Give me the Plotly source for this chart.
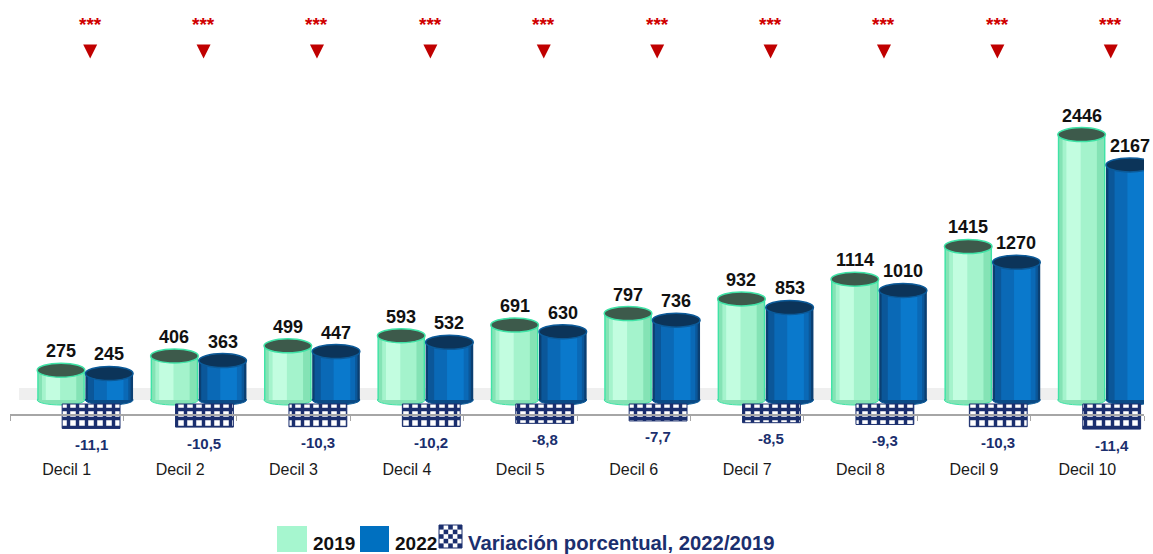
import plotly.graph_objects as go

# ---------------- data ----------------
categories = ["Decil 1", "Decil 2", "Decil 3", "Decil 4", "Decil 5",
              "Decil 6", "Decil 7", "Decil 8", "Decil 9", "Decil 10"]
values_2019 = [275, 406, 499, 593, 691, 797, 932, 1114, 1415, 2446]
values_2022 = [245, 363, 447, 532, 630, 736, 853, 1010, 1270, 2167]
variation = [-11.1, -10.5, -10.3, -10.2, -8.8, -7.7, -8.5, -9.3, -10.3, -11.4]
significance = ["***"] * 10
legend_labels = ["2019", "2022", "Variación porcentual, 2022/2019"]

# ---------------- layout geometry ----------------
W, H = 1153, 554
ML, MR, MT, MB = 10, 9, 0, 114
PW, PH = W - ML - MR, H - MT - MB
Z1, K1 = 400, 0.1085      # pixel of zero, px per unit (main axis)
Z2, K2 = 404, 2.2         # pixel of zero, px per unit (variation axis)
y1_range = [-(PH - Z1) / K1, Z1 / K1]
y2_range = [-(PH - Z2) / K2, Z2 / K2]

def py(p):   # pixel row -> paper y
    return (PH - p) / PH

def px(p):   # pixel col -> paper x
    return (p - ML) / PW

SANS = "Liberation Sans, Arial"
NAVY = "#1b2f6e"

xs = list(range(len(categories)))
GW = 0.42
G_OFF = -0.26
B_OFF = 0.165
V_OFF, VW = -0.04, 0.51

fig = go.Figure()

def cylinder(values, off, width, layers):
    for start, frac, color in layers:
        fig.add_trace(go.Bar(
            x=xs, y=values, offset=off + start * width, width=frac * width,
            marker=dict(color=color, line=dict(width=0)),
            showlegend=False, hoverinfo="skip"))

green_layers = [(0.0, 1.0, "#3fe3a6"), (0.03, 0.94, "#84e3b5"),
                (0.10, 0.72, "#a4f3cc"), (0.18, 0.30, "#c2fde0")]
blue_layers = [(0.0, 1.0, "#0a3f72"), (0.05, 0.90, "#0b5799"),
               (0.18, 0.72, "#0a69b6"), (0.45, 0.35, "#0a79cc")]

cylinder(values_2019, G_OFF, GW, green_layers)
cylinder(values_2022, B_OFF, GW, blue_layers)

# percentage variation (checkered) on secondary axis
fig.add_trace(go.Bar(
    x=xs, y=variation, yaxis="y2", offset=V_OFF, width=VW,
    marker=dict(color="white",
                pattern=dict(shape="+", fgcolor=NAVY, bgcolor="white",
                             size=9, solidity=0.62, fillmode="replace"),
                line=dict(color=NAVY, width=1)),
    showlegend=False, hoverinfo="skip"))

# significance triangles
fig.add_trace(go.Scatter(
    x=[i + 0.207 for i in xs], y=[py(58.5)] * len(xs), yaxis="y3",
    mode="markers", marker=dict(symbol="arrow-down", size=14, color="#c00000",
                                line=dict(width=0)),
    showlegend=False, hoverinfo="skip", cliponaxis=False))

shapes = []
# floor
shapes.append(dict(type="rect", xref="x", yref="y", x0=-0.42, x1=9.62,
                   y0=0, y1=12 / K1, fillcolor="#efefef", line=dict(width=0),
                   layer="below"))
TOP_H = 7 / K1
BOT_H = 5 / K1
for series, off, top_fill, rim, bot_fill in [
        (values_2019, G_OFF, "#3d5a4b", "#3fe3a6", "#84e3b5"),
        (values_2022, B_OFF, "#0c3459", "#0b5a99", "#0a4a85")]:
    for i, v in zip(xs, series):
        x0, x1 = i + off, i + off + GW
        shapes.append(dict(type="circle", xref="x", yref="y", x0=x0, x1=x1,
                           y0=-BOT_H, y1=BOT_H, fillcolor=bot_fill,
                           line=dict(color=rim, width=1), layer="below"))
        shapes.append(dict(type="circle", xref="x", yref="y", x0=x0, x1=x1,
                           y0=v - TOP_H, y1=v + TOP_H, fillcolor=top_fill,
                           line=dict(color=rim, width=1.5), layer="above"))

annotations = []
for i, (a, b) in enumerate(zip(values_2019, values_2022)):
    annotations.append(dict(x=i + G_OFF + GW / 2, y=a, xref="x", yref="y",
                            text=f"<b>{a}</b>", showarrow=False, yshift=19,
                            font=dict(family=SANS, size=18, color="#111111")))
    annotations.append(dict(x=i + B_OFF + GW / 2, y=b, xref="x", yref="y",
                            text=f"<b>{b}</b>", showarrow=False, yshift=19,
                            font=dict(family=SANS, size=18, color="#111111")))
for i, v in enumerate(variation):
    annotations.append(dict(x=i + V_OFF + VW / 2, y=v, xref="x", yref="y2",
                            text="<b>" + f"{v:.1f}".replace(".", ",") + "</b>",
                            showarrow=False, yshift=-16,
                            font=dict(family=SANS, size=15, color=NAVY)))
for i, s in enumerate(significance):
    annotations.append(dict(x=i + 0.207, y=py(24), xref="x", yref="paper",
                            xanchor="center", yanchor="middle",
                            text=f"<b>{s}</b>", showarrow=False,
                            font=dict(family=SANS, size=19, color="#d00000")))

# manual legend
shapes.append(dict(type="rect", xref="paper", yref="paper",
                   x0=px(277), x1=px(307), y0=py(552), y1=py(526),
                   fillcolor="#a6f6cf", line=dict(width=0)))
shapes.append(dict(type="rect", xref="paper", yref="paper",
                   x0=px(360), x1=px(389), y0=py(552), y1=py(526),
                   fillcolor="#0070c0", line=dict(width=0)))
cx0, cy0, cell = 439, 525, 4.6
shapes.append(dict(type="rect", xref="paper", yref="paper",
                   x0=px(cx0), x1=px(cx0 + 5 * cell), y0=py(cy0 + 5 * cell), y1=py(cy0),
                   fillcolor="white", line=dict(color=NAVY, width=1)))
for r in range(5):
    for c in range(5):
        if (r + c) % 2 == 0:
            shapes.append(dict(type="rect", xref="paper", yref="paper",
                               x0=px(cx0 + c * cell), x1=px(cx0 + (c + 1) * cell),
                               y0=py(cy0 + (r + 1) * cell), y1=py(cy0 + r * cell),
                               fillcolor=NAVY, line=dict(width=0)))
for xpix, txt, col, fs in [(311, legend_labels[0], "#111111", 19),
                           (393, legend_labels[1], "#111111", 19),
                           (466, legend_labels[2], NAVY, 20.3)]:
    annotations.append(dict(x=px(xpix), y=py(543), xref="paper", yref="paper",
                            xanchor="left", yanchor="middle", text=f"<b>{txt}</b>",
                            showarrow=False,
                            font=dict(family=SANS, size=fs, color=col)))

fig.update_layout(
    width=W, height=H, margin=dict(l=ML, r=MR, t=MT, b=MB),
    paper_bgcolor="white", plot_bgcolor="white",
    barmode="overlay", showlegend=False,
    xaxis=dict(range=[-0.5, 9.5], anchor="free", position=(PH - 415) / PH,
               tickmode="array", tickvals=xs, ticktext=categories, ticks="",
               showline=True, linecolor="#a6a6a6", linewidth=1.5,
               showgrid=False, zeroline=False, ticklabelstandoff=40,
               tickfont=dict(family=SANS, size=16, color="#1a1a1a"),
               minor=dict(tickvals=[i - 0.5 for i in range(11)], ticks="outside",
                          ticklen=5, tickcolor="#a6a6a6", tickwidth=1, showgrid=False)),
    yaxis=dict(range=y1_range, visible=False, showgrid=False, zeroline=False,
               fixedrange=True),
    yaxis2=dict(range=y2_range, overlaying="y", visible=False, showgrid=False,
                zeroline=False),
    yaxis3=dict(range=[0, 1], overlaying="y", visible=False, showgrid=False,
                zeroline=False),
    shapes=shapes, annotations=annotations,
)

fig.write_html("out.html", config={"displayModeBar": False},
               post_script="document.body.style.margin='0';document.body.style.overflow='hidden';")
